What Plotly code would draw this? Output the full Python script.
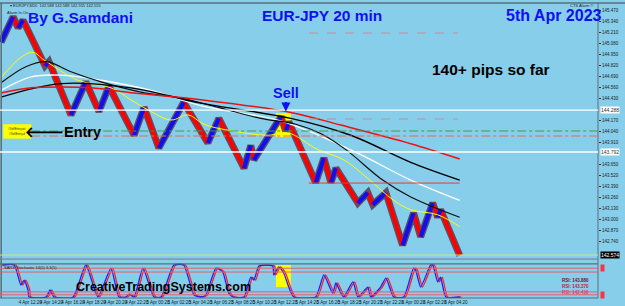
import plotly.graph_objects as go

# ---------------- data ----------------
# main price swing pivots: bar index, price
price_bar = [0, 3.4, 4.8, 6.2, 12.4, 13.5, 19.7, 23.9, 27.6, 30.4, 37.5, 40.3, 44.5, 51.5,
             58.3, 61.4, 68.5, 70.4, 71.3, 78.9, 80.3, 81.1, 88.7, 91.0, 93.0, 94.4, 100.6,
             103.4, 104.8, 108.5, 113.2, 116.3, 118.3, 121.7, 123.1, 123.9, 129.3]
price_val = [145.09, 145.39, 145.26, 145.35, 144.81, 144.86, 144.23, 144.62, 144.27, 144.57,
             143.99, 144.32, 143.84, 144.38, 143.90, 144.19, 143.60, 143.87, 143.70, 144.21,
             144.03, 144.15, 143.43, 143.72, 143.43, 143.60, 143.19, 143.31, 143.17, 143.31,
             142.69, 143.07, 142.79, 143.19, 143.02, 143.11, 142.57]

# moving averages
ma_yellow_bar = [0, 5.6, 9.0, 12.1, 21.7, 31.0, 36.6, 41.4, 47.9, 52.7, 57.2, 63.9, 75.2, 80.8,
                 89.3, 96.6, 103.4, 110.7, 115.5, 123.1, 129.3]
ma_yellow_val = [144.67, 144.91, 144.97, 144.88, 144.64, 144.55, 144.41, 144.29, 144.17, 144.23,
                 144.12, 144.05, 143.99, 144.02, 143.82, 143.70, 143.48, 143.22, 143.11, 143.05, 142.91]
ma_red_bar = [0, 8.5, 16.9, 25.4, 37.5, 56.3, 81.7, 95.8, 115.5, 129.3]
ma_red_val = [144.49, 144.55, 144.56, 144.55, 144.49, 144.41, 144.26, 144.11, 143.89, 143.71]
ma_black_slow_bar = [0, 16.9, 36.6, 56.3, 81.7, 98.6, 115.5, 129.3]
ma_black_slow_val = [144.44, 144.60, 144.55, 144.37, 144.19, 143.99, 143.67, 143.46]
ma_black_fast_bar = [0, 7.0, 12.7, 19.7, 28.2, 39.4, 50.7, 62.0, 73.2, 83.1, 90.1, 97.2, 107.6, 115.5, 129.3]
ma_black_fast_val = [144.61, 144.80, 144.86, 144.74, 144.62, 144.50, 144.43, 144.31, 144.19,
                     144.12, 144.01, 143.82, 143.46, 143.26, 143.02]
ma_white_bar = [0, 8.5, 16.9, 28.2, 42.3, 56.3, 78.0, 87.3, 101.4, 115.5, 129.3]
ma_white_val = [144.52, 144.68, 144.70, 144.64, 144.52, 144.34, 144.17, 144.03, 143.76, 143.46, 143.22]

# horizontal levels
white_levels = [144.288, 143.792]
pink_levels = [145.198, 144.182]
green_level = 144.040
orange_level = 143.981
red_level = 143.425
bottom_level = 142.574

# stochastic oscillator pivots (bar, value 0-100)
osc_bar = [0, 3.7, 5.6, 6.5, 7.6, 7.9, 12.7, 13.8, 14.9, 20.3, 23.9, 27.3, 31.0, 33.2, 35.2, 36.1,
           37.5, 40.0, 43.1, 45.1, 48.7, 51.5, 54.4, 56.3, 57.7, 60.6, 62.5, 64.2, 65.4, 68.5,
           70.4, 71.3, 72.7, 76.6, 76.9, 78.3, 79.7, 81.1, 82.5, 88.7, 91.0, 93.5, 94.4, 95.8,
           96.6, 99.2, 100.6, 103.4, 104.2, 107.0, 108.5, 110.7, 113.5, 116.3, 116.9, 118.3,
           121.1, 121.7, 123.1, 123.9, 125.4, 129.3]
osc_val = [100, 100, 37, 53, 22, 0, 0, 22, 0, 0, 100, 0, 90, 0, 0, 9,
           0, 90, 0, 0, 100, 100, 6, 0, 6, 90, 78, 12, 0, 0,
           62, 53, 97, 97, 69, 94, 75, 31, 0, 0, 69, 12, 44, 12,
           0, 47, 0, 31, 0, 31, 59, 0, 0, 90, 84, 31,
           100, 100, 47, 62, 0, 0]
osc_levels = [90, 78, 16, 7]

# tick labels
all_price_ticks = [round(142.61 + 0.13 * k, 3) for k in range(23)]
box_levels = white_levels + [bottom_level]
price_ticks = [v for v in all_price_ticks if min(abs(v - b) for b in box_levels) > 0.04]
time_labels = ["4 Apr 2023", "4 Apr 12:20", "4 Apr 14:20", "4 Apr 16:20", "4 Apr 18:20",
               "4 Apr 20:20", "4 Apr 22:20", "5 Apr 00:20", "5 Apr 02:20", "5 Apr 04:20",
               "5 Apr 06:20", "5 Apr 08:20", "5 Apr 10:20", "5 Apr 12:20", "5 Apr 14:20",
               "5 Apr 16:20", "5 Apr 18:20", "5 Apr 20:20", "5 Apr 22:20", "6 Apr 00:20",
               "6 Apr 02:20", "6 Apr 04:20"]
time_tick_bars = [2.25 + 6 * k for k in range(len(time_labels))]

# ---------------- figure ----------------
BG = "#87ceeb"
FONT = "Liberation Sans, Arial, sans-serif"
fig = go.Figure()

# price shadow + colored swings
fig.add_trace(go.Scatter(x=price_bar, y=price_val, mode="lines",
                         line=dict(color="rgba(80,50,65,0.8)", width=7), hoverinfo="skip"))
dx, dy, ux, uy = [], [], [], []
for i in range(len(price_bar) - 1):
    sx = [price_bar[i], price_bar[i + 1], None]
    sy = [price_val[i], price_val[i + 1], None]
    if price_val[i + 1] < price_val[i]:
        dx += sx; dy += sy
    else:
        ux += sx; uy += sy
fig.add_trace(go.Scatter(x=dx, y=dy, mode="lines", line=dict(color="#ff0000", width=4.2)))
fig.add_trace(go.Scatter(x=ux, y=uy, mode="lines", line=dict(color="#1010ee", width=4.2)))

for bx, vy, col, w in [(ma_yellow_bar, ma_yellow_val, "#ffff00", 1.0),
                       (ma_white_bar, ma_white_val, "#ffffff", 1.3),
                       (ma_black_fast_bar, ma_black_fast_val, "#101010", 1.2),
                       (ma_black_slow_bar, ma_black_slow_val, "#000000", 1.4),
                       (ma_red_bar, ma_red_val, "#ee1111", 1.5)]:
    fig.add_trace(go.Scatter(x=bx, y=vy, mode="lines", line=dict(color=col, width=w, shape="spline", smoothing=1.0)))

# oscillator
fig.add_trace(go.Scatter(x=[b + 0.5 for b in osc_bar], y=osc_val, mode="lines", yaxis="y2",
                         line=dict(color="#ff2020", width=1.3, shape="spline", smoothing=0.5)))
fig.add_trace(go.Scatter(x=osc_bar, y=osc_val, mode="lines", yaxis="y2",
                         line=dict(color="#2020ff", width=1.3, shape="spline", smoothing=0.5)))

shapes = []
# frames
shapes.append(dict(type="line", xref="paper", yref="paper", x0=-0.01, x1=1.05, y0=1.0, y1=1.0,
                   line=dict(color="#5a6f7c", width=1.5)))
shapes.append(dict(type="line", xref="paper", yref="paper", x0=0.002, x1=0.002, y0=0.0, y1=1.0,
                   line=dict(color="#5a6f7c", width=1.5)))
shapes.append(dict(type="line", xref="paper", yref="paper", x0=1, x1=1, y0=0.0, y1=1.0,
                   line=dict(color="#5a6f7c", width=1)))
shapes.append(dict(type="line", xref="paper", yref="paper", x0=0, x1=1, y0=0.132, y1=0.132,
                   line=dict(color="#6a7f8c", width=1)))
shapes.append(dict(type="line", xref="paper", yref="paper", x0=0, x1=1, y0=0.116, y1=0.116,
                   line=dict(color="#5a6f7c", width=1.2)))
shapes.append(dict(type="line", xref="paper", yref="paper", x0=0, x1=1, y0=0.0, y1=0.0,
                   line=dict(color="#5a6f7c", width=1)))
# levels
for lv in white_levels:
    shapes.append(dict(type="line", xref="paper", yref="y", x0=0, x1=1, y0=lv, y1=lv,
                       line=dict(color="#ffffff", width=1.3)))
for lv in pink_levels:
    shapes.append(dict(type="line", xref="x", yref="y", x0=86.8, x1=128.7, y0=lv, y1=lv,
                       line=dict(color="#c88a9a", width=1, dash="dash")))
shapes.append(dict(type="line", xref="x", yref="y", x0=8.5, x1=168.3, y0=green_level, y1=green_level,
                   line=dict(color="#3c9a5a", width=1, dash="dashdot")))
shapes.append(dict(type="line", xref="x", yref="y", x0=8.5, x1=168.3, y0=orange_level, y1=orange_level,
                   line=dict(color="#e0704a", width=1, dash="dashdot")))
shapes.append(dict(type="line", xref="x", yref="y", x0=86.8, x1=129.3, y0=red_level, y1=red_level,
                   line=dict(color="#e04030", width=1)))
shapes.append(dict(type="line", xref="paper", yref="y", x0=0, x1=1, y0=bottom_level, y1=bottom_level,
                   line=dict(color="#c8e878", width=1)))
# yellow boxes
shapes.append(dict(type="rect", xref="x", yref="y", x0=0.6, x1=8.5, y0=143.95, y1=144.12,
                   fillcolor="#ffff00", line=dict(width=0), layer="below"))
shapes.append(dict(type="rect", xref="x", yref="y", x0=77.5, x1=81.7, y0=143.97, y1=144.25,
                   fillcolor="#ffff00", line=dict(width=0), layer="below"))
shapes.append(dict(type="rect", xref="x", yref="y2", x0=77.5, x1=81.7, y0=31, y1=100,
                   fillcolor="#ffff00", line=dict(width=0), layer="below"))
# oscillator levels
for lv in osc_levels:
    shapes.append(dict(type="line", xref="paper", yref="y2", x0=0, x1=1, y0=lv, y1=lv,
                       line=dict(color="#e06070", width=1)))

ann = []
def txt(x, y, t, size, color, bold=True, xanchor="center", xref="paper", yref="paper", **kw):
    ann.append(dict(x=x, y=y, xref=xref, yref=yref, text=("<b>%s</b>" % t) if bold else t,
                    showarrow=False, xanchor=xanchor, yanchor="middle",
                    font=dict(family=FONT, size=size, color=color), **kw))

txt(0.134, 0.952, "By G.Samdani", 15.5, "#1010f0")
txt(0.5385, 0.956, "EUR-JPY 20 min", 15.5, "#1010f0")
txt(0.926, 0.956, "5th Apr 2023", 16, "#1010f0")
txt(0.821, 0.773, "140+ pips so far", 15.5, "#000000")
txt(0.274, 0.038, "CreativeTradingSystems.com", 12.5, "#000000")
txt(0.013, 0.99, "▾ EURJPY,M20  142.588 142.588 142.555 142.555", 4, "#222222", bold=False, xanchor="left")
txt(0.008, 0.969, "Alarm Is On", 4, "#222222", bold=False, xanchor="left")
txt(0.995, 0.99, "CTS Alarm ©", 4, "#222222", bold=False, xanchor="right")
txt(0.004, 0.1017, "SARS Stochastic 14(5) 3,3(5)", 4, "#222222", bold=False, xanchor="left")
txt(6.3, 144.03, "🡐Entry", 14.5, "#000000", xanchor="left", xref="x", yref="y")
txt(4.5, 144.06, "#SellEntry.txt", 3, "#333300", bold=False, xref="x", yref="y")
txt(4.5, 144.01, "#SellEntry.d", 3, "#333300", bold=False, xref="x", yref="y")
txt(0.988, 0.061, "RSI: 143.880", 4.5, "#7a1020", xanchor="right")
txt(0.988, 0.038, "RSI: 143.370", 4.5, "#c02040", xanchor="right")
txt(0.988, 0.017, "RSI: 142.430", 4.5, "#ff3050", xanchor="right")

# Sell arrow
ann.append(dict(x=80.3, y=144.27, xref="x", yref="y", text="<b>Sell</b>", showarrow=True,
                arrowhead=2, arrowsize=0.9, arrowwidth=2, arrowcolor="#1010f0", ax=0, ay=-19,
                font=dict(family=FONT, size=14.5, color="#1010f0")))

# right-side label boxes
for lv in white_levels:
    ann.append(dict(x=1, y=lv, xref="paper", yref="y", text="%.3f" % lv, showarrow=False,
                    xanchor="left", xshift=2, bgcolor="#ffffff", borderpad=0,
                    font=dict(family=FONT, size=5, color="#333333")))
ann.append(dict(x=1, y=bottom_level, xref="paper", yref="y", text="%.3f" % bottom_level, showarrow=False,
                xanchor="left", xshift=2, bgcolor="#000000", borderpad=0,
                font=dict(family=FONT, size=5, color="#ffffff")))
for lv in [osc_levels[0], osc_levels[3]]:
    ann.append(dict(x=1, y=lv, xref="paper", yref="y2", text="  ", showarrow=False,
                    xanchor="left", xshift=2, bgcolor="#ff3040", borderpad=0,
                    font=dict(family=FONT, size=5, color="#ffffff")))

fig.update_layout(
    width=625, height=306, margin=dict(l=0, r=27, t=3, b=8),
    paper_bgcolor=BG, plot_bgcolor=BG, showlegend=False,
    xaxis=dict(domain=[0, 1], range=[-0.3, 168.3], anchor="y2", tickvals=time_tick_bars,
               ticktext=time_labels, tickangle=0, tickfont=dict(family=FONT, size=4.5, color="#1a1a1a"),
               showgrid=False, zeroline=False, showline=False, ticks="", automargin=False),
    yaxis=dict(domain=[0.139, 1], range=[142.551, 145.553], side="right", anchor="x",
               tickvals=price_ticks, ticktext=["%.3f" % v for v in price_ticks],
               tickfont=dict(family=FONT, size=4.5, color="#222222"), ticks="outside", ticklen=2,
               tickcolor="#333333", showgrid=False, zeroline=False, showline=False, automargin=False),
    yaxis2=dict(domain=[0, 0.1186], range=[-3.1, 106.25], anchor="x", showticklabels=False,
                showgrid=False, zeroline=False, showline=False),
    shapes=shapes, annotations=ann,
)

fig.write_html("out.html")
